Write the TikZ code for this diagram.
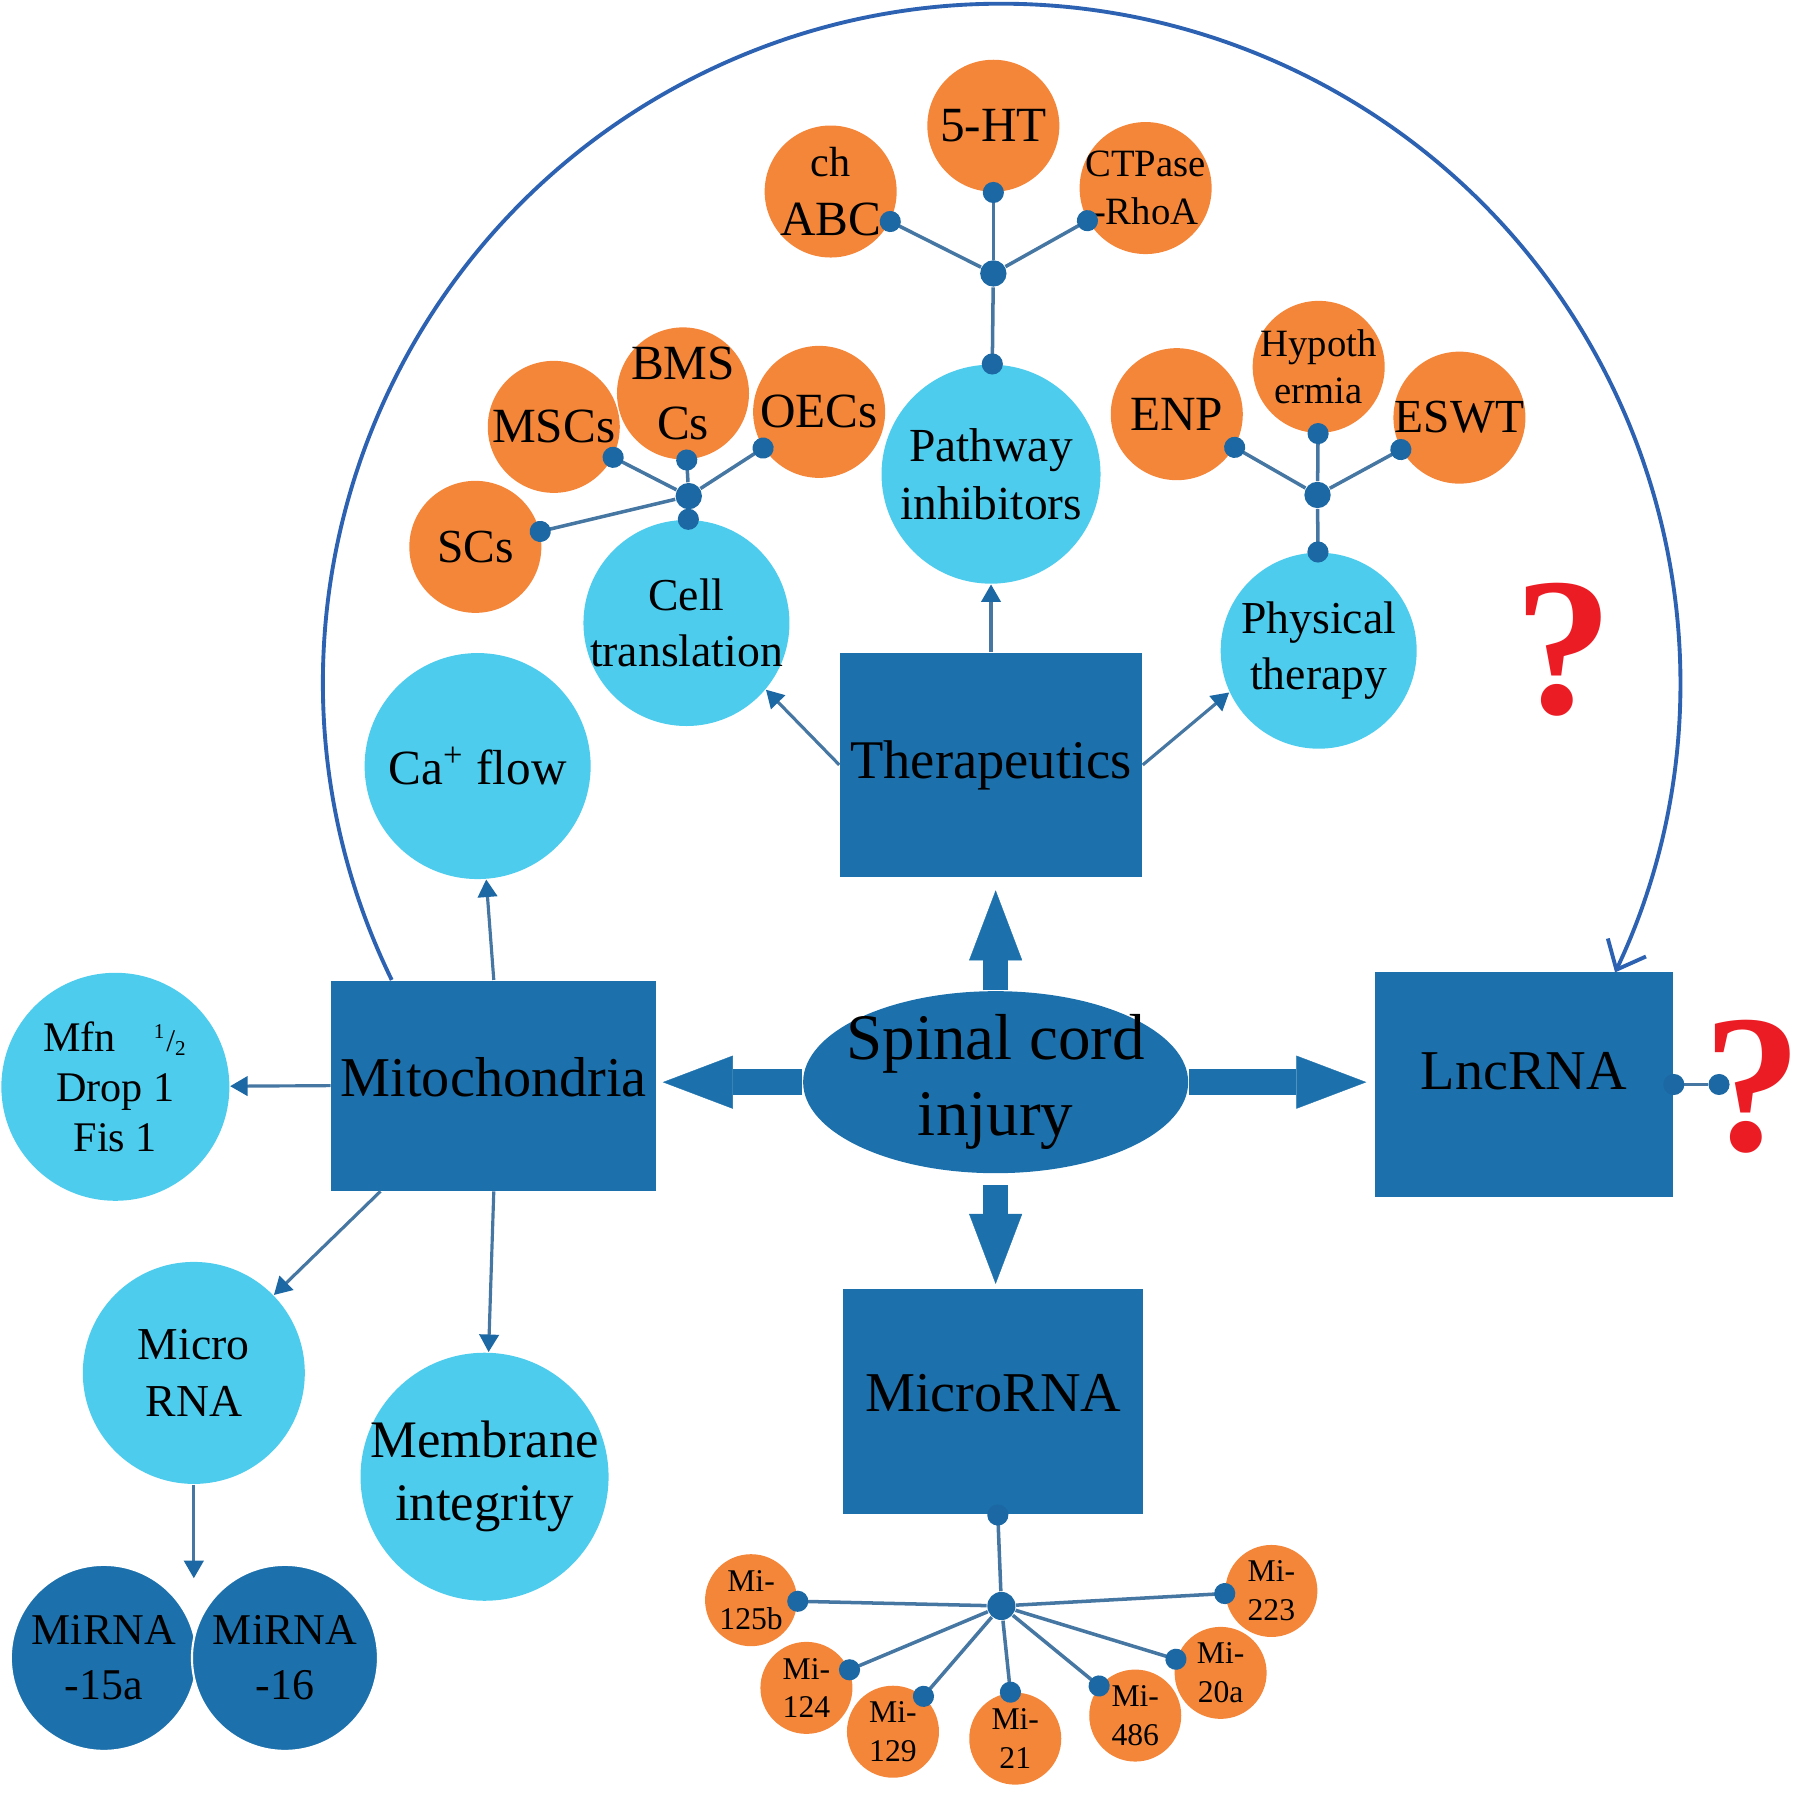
\documentclass[tikz,border=0pt]{standalone}
\usepackage{fontspec}
\setmainfont{Liberation Serif}
\usepackage{tikz}
\usetikzlibrary{arrows.meta,shapes.geometric}
\definecolor{BoxBlue}{HTML}{1C71AD}
\definecolor{SkyBlue}{HTML}{4ECCED}
\definecolor{PetalOrange}{HTML}{F4863A}
\definecolor{KnobBlue}{HTML}{1B68A4}
\definecolor{LinkGrey}{HTML}{4677A3}
\definecolor{RingBlue}{HTML}{2D62B2}
\definecolor{AskRed}{HTML}{EC1C24}

\begin{document}
\begin{tikzpicture}[
    x=0.011538cm, y=-0.011538cm,
    theme/.style={rectangle, fill=BoxBlue, inner sep=0pt, font=\fontsize{16}{19}\selectfont},
    core/.style={ellipse, fill=BoxBlue, minimum width=3.85cm, minimum height=1.82cm, inner sep=-8pt, align=center, font=\fontsize{18.5}{21.5}\selectfont},
    topic/.style={circle, fill=SkyBlue, inner sep=-5pt, align=center, font=\fontsize{13}{16}\selectfont},
    petal/.style={circle, fill=PetalOrange, minimum size=1.32cm, inner sep=-6pt, align=center, font=\fontsize{14}{17}\selectfont},
    mipetal/.style={circle, fill=PetalOrange, minimum size=0.92cm, inner sep=-4pt, align=center, font=\fontsize{9}{11}\selectfont},
    darkorb/.style={circle, fill=BoxBlue, draw=white, line width=0.6pt, minimum size=1.86cm, inner sep=-4pt, align=center, font=\fontsize{12.5}{15.5}\selectfont},
    hub/.style={circle, fill=KnobBlue, minimum size=7.5pt, inner sep=0pt},
    knob/.style={circle, fill=KnobBlue, minimum size=6pt, inner sep=0pt},
    spoke/.style={draw=LinkGrey, line width=1pt, -{Circle[length=6pt, color=KnobBlue]}, shorten >=-3pt},
    feed/.style={draw=LinkGrey, line width=0.9pt, -{Triangle[width=5.5pt, length=5pt, color=KnobBlue]}},
    push/.style={draw=BoxBlue, line width=0.254cm, -{Triangle[width=0.53cm, length=0.70cm, line width=0.1pt]}},
    ring/.style={draw=RingBlue, line width=1.1pt, -{Straight Barb[length=7pt, width=12pt]}},
    ask/.style={text=AskRed, inner sep=0pt, font=\fontsize{56}{56}\selectfont\bfseries}
]
\useasboundingbox (0,0) rectangle (1560,1568);

% centre and its four branches
\node[core] (sci) at (863,938) {Spinal cord\\injury};
\node[theme, minimum width=3.02cm, minimum height=2.24cm, font=\fontsize{15.5}{18}\selectfont] (ther) at (859,663) {Therapeutics};
\node[theme, minimum width=3.25cm, minimum height=2.10cm, text depth=0.18cm] (mito) at (428,941) {Mitochondria};
\node[theme, minimum width=2.98cm, minimum height=2.24cm, text depth=0.28cm] (lnc) at (1321,940) {LncRNA};
\node[theme, minimum width=3.00cm, minimum height=2.25cm, text depth=0.18cm] (mirna) at (861,1215) {MicroRNA};

\draw[push, shorten >=0.127cm] (sci.north) -- (sci.north |- ther.south);
\draw[push, shorten >=0.058cm] (sci.west) -- (sci.west -| mito.east);
\draw[push, shorten >=0.08cm] (sci.east) -- (sci.east -| lnc.west);
\draw[push, shorten <=0.115cm, shorten >=0.046cm] (sci.south) -- (sci.south |- mirna.north);

% therapeutics
\node[topic, minimum size=2.19cm, font=\fontsize{13.5}{16.5}\selectfont] (path) at (859,411) {Pathway\\inhibitors};
\node[topic, minimum size=2.06cm] (cell) at (595,540) {Cell\\translation};
\node[topic, minimum size=1.96cm] (phys) at (1143,564) {Physical\\therapy};
\draw[feed] (ther.north) -- (path);
\draw[feed] (ther.west) -- (cell.-40);
\draw[feed] (ther.east) -- (phys.205);

\node[hub] (hubp) at (861,237) {};
\node[petal] (chabc) at (720,166) {{\fontsize{12}{14}\selectfont ch}\\ABC};
\node[petal] (fiveht) at (861,109) {5-HT};
\node[petal, font=\fontsize{11}{13.7}\selectfont] (ctpase) at (993,163) {CTPase\\-RhoA};
\draw[spoke] (hubp) -- (path);
\draw[spoke] (hubp) -- (chabc);
\draw[spoke] (hubp) -- (fiveht);
\draw[spoke] (hubp) -- (ctpase);

\node[hub] (hubc) at (597,430) {};
\node[petal, font=\fontsize{13.5}{16}\selectfont] (scs) at (412,474) {SCs};
\node[petal] (mscs) at (480,370) {MSCs};
\node[petal] (bmscs) at (592,341) {BMS\\Cs};
\node[petal] (oecs) at (710,357) {OECs};
\draw[spoke] (hubc) -- (cell);
\draw[spoke] (hubc) -- (scs);
\draw[spoke] (hubc) -- (mscs);
\draw[spoke] (hubc) -- (bmscs);
\draw[spoke] (hubc) -- (oecs);

\node[hub] (hubt) at (1142,429) {};
\node[petal] (enp) at (1020,359) {ENP};
\node[petal, font=\fontsize{11}{13.5}\selectfont] (hypo) at (1143,318) {Hypoth\\ermia};
\node[petal, font=\fontsize{13.5}{16}\selectfont] (eswt) at (1265,362) {ESWT};
\draw[spoke] (hubt) -- (phys);
\draw[spoke] (hubt) -- (enp);
\draw[spoke] (hubt) -- (hypo);
\draw[spoke] (hubt) -- (eswt);

% mitochondria
\node[topic, minimum size=2.26cm, font=\fontsize{14}{17}\selectfont] (calc) at (414,664) {Ca\textsuperscript{+} flow};
\node[topic, minimum size=2.28cm, font=\fontsize{12}{14.2}\selectfont] (fiss) at (100,942) {Mfn\hspace{0.9em}{\fontsize{9}{10}\selectfont\textsuperscript{1}/\textsubscript{2}}\\Drop 1\\Fis 1};
\node[topic, minimum size=2.22cm] (micro) at (168,1190) {Micro\\RNA};
\node[topic, minimum size=2.48cm, font=\fontsize{15}{18}\selectfont] (memb) at (420,1280) {Membrane\\integrity};
\node[darkorb] (mir15) at (90,1437) {MiRNA\\-15a};
\node[darkorb] (mir16) at (247,1437) {MiRNA\\-16};
\coordinate (notch) at (168,1368);
\draw[feed] (mito.west) -- (fiss);
\draw[feed] (mito.north) -- (calc);
\draw[feed] (mito.223) -- (micro);
\draw[feed] (mito.south) -- (memb);
\draw[feed] (micro) -- (notch);

% microRNA
\node[hub, minimum size=8pt] (hubm) at (868,1392) {};
\node[mipetal] (m125) at (651,1387) {Mi-\\125b};
\node[mipetal] (m124) at (699,1463) {Mi-\\124};
\node[mipetal] (m129) at (774,1501) {Mi-\\129};
\node[mipetal] (m21) at (880,1507) {Mi-\\21};
\node[mipetal] (m486) at (984,1487) {Mi-\\486};
\node[mipetal] (m20a) at (1058,1450) {Mi-\\20a};
\node[mipetal] (m223) at (1102,1379) {Mi-\\223};
\draw[spoke] (hubm) -- (mirna);
\draw[spoke] (hubm) -- (m125);
\draw[spoke] (hubm) -- (m124);
\draw[spoke] (hubm) -- (m129);
\draw[spoke] (hubm) -- (m21);
\draw[spoke] (hubm) -- (m486);
\draw[spoke] (hubm) -- (m20a);
\draw[spoke] (hubm) -- (m223);

% lncRNA
\node[knob] (qknob) at (1490,940) {};
\draw[spoke] (qknob) -- (lnc);
\node[ask] (ask2) at (1519,942) {?};
\node[ask] (ask1) at (1355,563) {?};
\draw[ring] (mito.north west) ++(53,0) arc[start angle=206, end angle=-25.3, radius=6.785cm];
\end{tikzpicture}
\end{document}
